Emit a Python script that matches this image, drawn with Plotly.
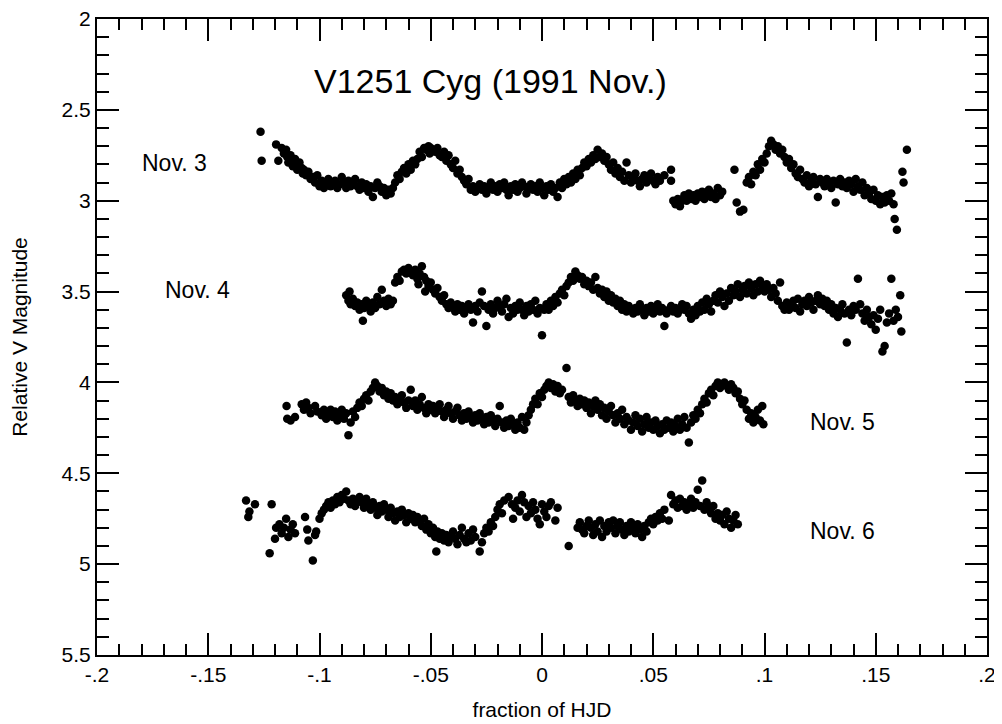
import plotly.graph_objects as go

# ---- data: (fraction of HJD, relative V magnitude) ----
nov3 = [(-0.1265,2.62),(-0.126,2.78),(-0.1195,2.69),(-0.1185,2.78),(-0.117,2.71),(-0.116,2.74),(-0.115,2.72),(-0.1145,2.76),(-0.114,2.79),(-0.113,2.75),(-0.1125,2.78),(-0.112,2.81),(-0.111,2.77),(-0.1105,2.80),(-0.11,2.83),(-0.109,2.79),(-0.108,2.82),(-0.1075,2.85),(-0.107,2.83),(-0.106,2.86),(-0.105,2.84),(-0.104,2.88),(-0.103,2.87),(-0.102,2.9),(-0.101,2.86),(-0.1,2.92),(-0.099,2.89),(-0.098,2.93),(-0.097,2.91),(-0.096,2.88),(-0.095,2.92),(-0.094,2.9),(-0.093,2.89),(-0.092,2.93),(-0.091,2.91),(-0.09,2.87),(-0.089,2.9),(-0.088,2.93),(-0.087,2.89),(-0.086,2.92),(-0.085,2.9),(-0.084,2.88),(-0.083,2.92),(-0.082,2.94),(-0.081,2.9),(-0.08,2.93),(-0.079,2.91),(-0.078,2.95),(-0.077,2.92),(-0.076,2.98),(-0.075,2.93),(-0.074,2.9),(-0.073,2.92),(-0.072,2.95),(-0.071,2.93),(-0.07,2.97),(-0.069,2.94),(-0.068,2.96),(-0.067,2.93),(-0.066,2.9),(-0.065,2.86),(-0.064,2.88),(-0.063,2.84),(-0.062,2.82),(-0.061,2.85),(-0.06,2.8),(-0.059,2.83),(-0.058,2.78),(-0.057,2.8),(-0.056,2.77),(-0.055,2.73),(-0.054,2.76),(-0.053,2.71),(-0.052,2.72),(-0.051,2.7),(-0.0505,2.74),(-0.05,2.71),(-0.049,2.72),(-0.048,2.73),(-0.047,2.71),(-0.046,2.75),(-0.045,2.76),(-0.044,2.73),(-0.043,2.78),(-0.042,2.75),(-0.041,2.8),(-0.04,2.82),(-0.039,2.78),(-0.038,2.85),(-0.037,2.83),(-0.036,2.87),(-0.035,2.89),(-0.034,2.91),(-0.033,2.88),(-0.032,2.94),(-0.031,2.92),(-0.03,2.95),(-0.029,2.93),(-0.028,2.91),(-0.027,2.94),(-0.026,2.92),(-0.025,2.96),(-0.024,2.93),(-0.023,2.9),(-0.022,2.94),(-0.021,2.92),(-0.02,2.95),(-0.019,2.91),(-0.018,2.93),(-0.017,2.9),(-0.016,2.94),(-0.015,2.97),(-0.014,2.92),(-0.013,2.94),(-0.012,2.91),(-0.011,2.95),(-0.01,2.93),(-0.009,2.9),(-0.008,2.92),(-0.007,2.96),(-0.006,2.93),(-0.005,2.91),(-0.004,2.94),(-0.003,2.92),(-0.002,2.95),(-0.001,2.9),(0.0,2.93),(0.001,2.97),(0.002,2.92),(0.003,2.94),(0.004,2.91),(0.005,2.95),(0.006,2.93),(0.007,2.98),(0.008,2.9),(0.009,2.93),(0.01,2.88),(0.011,2.91),(0.012,2.87),(0.013,2.9),(0.014,2.85),(0.015,2.88),(0.016,2.83),(0.017,2.86),(0.018,2.82),(0.019,2.79),(0.02,2.81),(0.021,2.77),(0.022,2.79),(0.023,2.75),(0.024,2.77),(0.025,2.72),(0.026,2.76),(0.027,2.74),(0.028,2.78),(0.029,2.76),(0.03,2.8),(0.031,2.83),(0.032,2.79),(0.033,2.85),(0.034,2.82),(0.035,2.87),(0.036,2.84),(0.037,2.89),(0.038,2.79),(0.039,2.86),(0.04,2.9),(0.041,2.87),(0.042,2.85),(0.043,2.89),(0.044,2.92),(0.045,2.88),(0.046,2.86),(0.047,2.9),(0.048,2.87),(0.049,2.85),(0.05,2.89),(0.051,2.91),(0.052,2.87),(0.053,2.89),(0.055,2.86),(0.058,2.83),(0.058,2.89),(0.059,3.0),(0.06,3.02),(0.061,2.99),(0.062,3.03),(0.063,3.0),(0.064,2.97),(0.065,3.0),(0.066,2.96),(0.067,2.99),(0.068,2.97),(0.069,3.0),(0.07,2.96),(0.071,2.98),(0.072,2.95),(0.073,2.99),(0.074,2.97),(0.075,2.94),(0.076,2.98),(0.077,2.96),(0.078,2.99),(0.079,2.93),(0.08,2.97),(0.081,2.95),(0.0865,2.83),(0.0875,3.01),(0.089,3.06),(0.0905,3.05),(0.092,2.9),(0.093,2.87),(0.094,2.91),(0.095,2.84),(0.096,2.86),(0.097,2.8),(0.098,2.83),(0.099,2.77),(0.1,2.79),(0.101,2.74),(0.102,2.7),(0.103,2.67),(0.104,2.69),(0.105,2.72),(0.106,2.7),(0.107,2.74),(0.108,2.72),(0.109,2.76),(0.11,2.79),(0.111,2.77),(0.112,2.82),(0.113,2.8),(0.114,2.85),(0.115,2.87),(0.116,2.83),(0.117,2.88),(0.118,2.9),(0.119,2.86),(0.12,2.92),(0.121,2.89),(0.122,2.87),(0.123,2.91),(0.124,2.98),(0.125,2.88),(0.126,2.9),(0.127,2.92),(0.128,2.88),(0.129,2.9),(0.13,2.93),(0.131,2.89),(0.132,3.01),(0.133,2.91),(0.134,2.88),(0.135,2.92),(0.136,2.9),(0.137,2.93),(0.138,2.89),(0.139,2.91),(0.14,2.95),(0.141,2.88),(0.142,2.92),(0.143,2.94),(0.144,2.9),(0.145,2.97),(0.146,2.93),(0.147,2.96),(0.148,2.99),(0.149,2.94),(0.15,3.0),(0.151,2.97),(0.152,3.02),(0.153,2.98),(0.154,3.01),(0.155,2.97),(0.156,3.0),(0.157,2.96),(0.158,3.02),(0.1585,3.1),(0.1595,3.16),(0.162,2.84),(0.1625,2.9),(0.164,2.72)]

nov4 = [(-0.088,3.52),(-0.087,3.55),(-0.0865,3.5),(-0.086,3.57),(-0.085,3.54),(-0.084,3.58),(-0.083,3.56),(-0.082,3.6),(-0.081,3.57),(-0.0805,3.66),(-0.08,3.59),(-0.079,3.55),(-0.078,3.58),(-0.077,3.61),(-0.076,3.56),(-0.075,3.59),(-0.074,3.53),(-0.073,3.57),(-0.072,3.49),(-0.071,3.55),(-0.07,3.58),(-0.069,3.54),(-0.068,3.57),(-0.067,3.55),(-0.066,3.45),(-0.065,3.42),(-0.064,3.44),(-0.063,3.39),(-0.062,3.38),(-0.061,3.4),(-0.06,3.37),(-0.059,3.39),(-0.058,3.41),(-0.057,3.38),(-0.056,3.43),(-0.0555,3.46),(-0.055,3.4),(-0.054,3.36),(-0.053,3.42),(-0.0525,3.5),(-0.052,3.44),(-0.051,3.47),(-0.05,3.45),(-0.049,3.49),(-0.048,3.51),(-0.047,3.48),(-0.046,3.53),(-0.045,3.55),(-0.044,3.52),(-0.043,3.57),(-0.042,3.59),(-0.041,3.56),(-0.04,3.58),(-0.039,3.61),(-0.038,3.57),(-0.037,3.6),(-0.036,3.58),(-0.035,3.62),(-0.034,3.59),(-0.033,3.57),(-0.032,3.6),(-0.031,3.67),(-0.03,3.58),(-0.029,3.61),(-0.028,3.56),(-0.027,3.5),(-0.026,3.58),(-0.025,3.69),(-0.024,3.6),(-0.023,3.57),(-0.022,3.62),(-0.021,3.59),(-0.02,3.55),(-0.019,3.58),(-0.018,3.61),(-0.017,3.57),(-0.016,3.54),(-0.015,3.64),(-0.014,3.59),(-0.013,3.62),(-0.012,3.58),(-0.011,3.6),(-0.01,3.56),(-0.009,3.6),(-0.008,3.63),(-0.007,3.58),(-0.006,3.61),(-0.005,3.57),(-0.004,3.6),(-0.003,3.55),(-0.002,3.62),(-0.001,3.59),(0.0,3.74),(0.001,3.6),(0.002,3.57),(0.003,3.6),(0.004,3.55),(0.005,3.58),(0.006,3.53),(0.007,3.56),(0.008,3.51),(0.009,3.49),(0.01,3.52),(0.011,3.47),(0.012,3.45),(0.013,3.42),(0.014,3.44),(0.015,3.39),(0.016,3.41),(0.017,3.43),(0.018,3.42),(0.019,3.46),(0.02,3.44),(0.021,3.47),(0.022,3.45),(0.023,3.49),(0.024,3.42),(0.025,3.48),(0.026,3.51),(0.027,3.49),(0.028,3.53),(0.029,3.5),(0.03,3.55),(0.031,3.52),(0.032,3.56),(0.033,3.54),(0.034,3.58),(0.035,3.55),(0.036,3.6),(0.037,3.57),(0.038,3.61),(0.039,3.58),(0.04,3.6),(0.041,3.62),(0.042,3.59),(0.043,3.61),(0.044,3.57),(0.045,3.6),(0.046,3.63),(0.047,3.59),(0.048,3.61),(0.049,3.58),(0.05,3.62),(0.051,3.6),(0.052,3.57),(0.053,3.61),(0.054,3.59),(0.055,3.69),(0.056,3.62),(0.057,3.6),(0.058,3.58),(0.059,3.61),(0.06,3.59),(0.061,3.62),(0.062,3.6),(0.063,3.57),(0.064,3.6),(0.065,3.58),(0.066,3.62),(0.067,3.65),(0.068,3.6),(0.069,3.63),(0.07,3.58),(0.071,3.61),(0.072,3.56),(0.073,3.6),(0.074,3.54),(0.075,3.57),(0.076,3.61),(0.077,3.55),(0.078,3.52),(0.079,3.56),(0.08,3.5),(0.081,3.53),(0.082,3.58),(0.083,3.51),(0.084,3.55),(0.085,3.48),(0.086,3.52),(0.087,3.5),(0.088,3.46),(0.089,3.53),(0.09,3.49),(0.091,3.47),(0.092,3.51),(0.093,3.45),(0.094,3.48),(0.095,3.52),(0.096,3.46),(0.097,3.5),(0.098,3.44),(0.099,3.47),(0.1,3.5),(0.101,3.46),(0.102,3.49),(0.103,3.53),(0.104,3.48),(0.105,3.51),(0.106,3.55),(0.107,3.45),(0.108,3.58),(0.109,3.6),(0.11,3.56),(0.111,3.6),(0.112,3.57),(0.113,3.55),(0.114,3.59),(0.115,3.54),(0.116,3.61),(0.117,3.57),(0.118,3.55),(0.119,3.58),(0.12,3.53),(0.121,3.56),(0.122,3.6),(0.123,3.55),(0.124,3.52),(0.125,3.57),(0.126,3.54),(0.127,3.58),(0.128,3.55),(0.129,3.6),(0.13,3.57),(0.131,3.62),(0.132,3.59),(0.133,3.64),(0.134,3.6),(0.135,3.57),(0.136,3.62),(0.137,3.78),(0.138,3.6),(0.139,3.63),(0.14,3.58),(0.141,3.6),(0.142,3.43),(0.143,3.57),(0.144,3.62),(0.145,3.66),(0.146,3.6),(0.147,3.64),(0.148,3.68),(0.149,3.63),(0.15,3.71),(0.151,3.65),(0.152,3.6),(0.153,3.83),(0.154,3.8),(0.155,3.67),(0.156,3.62),(0.157,3.43),(0.158,3.66),(0.159,3.6),(0.16,3.64),(0.161,3.52),(0.1615,3.72)]

nov5 = [(-0.1148,4.13),(-0.1145,4.2),(-0.113,4.21),(-0.111,4.19),(-0.108,4.12),(-0.107,4.15),(-0.106,4.11),(-0.105,4.14),(-0.104,4.17),(-0.102,4.13),(-0.101,4.16),(-0.099,4.18),(-0.098,4.15),(-0.097,4.2),(-0.096,4.17),(-0.095,4.15),(-0.094,4.19),(-0.093,4.16),(-0.092,4.21),(-0.091,4.18),(-0.09,4.15),(-0.089,4.2),(-0.088,4.17),(-0.087,4.29),(-0.086,4.22),(-0.085,4.16),(-0.084,4.19),(-0.083,4.14),(-0.082,4.11),(-0.081,4.13),(-0.08,4.09),(-0.079,4.07),(-0.078,4.1),(-0.077,4.05),(-0.076,4.03),(-0.075,4.0),(-0.074,4.02),(-0.073,4.05),(-0.072,4.03),(-0.071,4.07),(-0.07,4.05),(-0.069,4.09),(-0.068,4.06),(-0.067,4.1),(-0.066,4.08),(-0.065,4.12),(-0.064,4.09),(-0.063,4.07),(-0.062,4.11),(-0.061,4.14),(-0.06,4.1),(-0.059,4.04),(-0.058,4.13),(-0.057,4.1),(-0.056,4.15),(-0.055,4.12),(-0.054,4.08),(-0.053,4.14),(-0.052,4.17),(-0.051,4.12),(-0.05,4.15),(-0.049,4.13),(-0.048,4.17),(-0.047,4.14),(-0.046,4.12),(-0.045,4.16),(-0.044,4.19),(-0.043,4.15),(-0.042,4.13),(-0.041,4.17),(-0.04,4.2),(-0.039,4.16),(-0.038,4.14),(-0.037,4.18),(-0.036,4.21),(-0.035,4.17),(-0.034,4.2),(-0.033,4.16),(-0.032,4.19),(-0.031,4.22),(-0.03,4.18),(-0.029,4.21),(-0.028,4.17),(-0.027,4.2),(-0.026,4.23),(-0.025,4.19),(-0.024,4.22),(-0.023,4.18),(-0.022,4.21),(-0.021,4.24),(-0.02,4.2),(-0.019,4.13),(-0.018,4.22),(-0.017,4.25),(-0.016,4.21),(-0.015,4.24),(-0.014,4.2),(-0.013,4.23),(-0.012,4.26),(-0.011,4.22),(-0.01,4.25),(-0.009,4.19),(-0.008,4.26),(-0.007,4.22),(-0.006,4.18),(-0.005,4.15),(-0.004,4.12),(-0.003,4.09),(-0.002,4.12),(-0.001,4.06),(0.0,4.08),(0.001,4.04),(0.002,4.02),(0.003,4.0),(0.004,4.03),(0.005,4.01),(0.006,4.05),(0.007,4.02),(0.008,4.06),(0.009,4.04),(0.011,3.92),(0.012,4.08),(0.013,4.11),(0.014,4.07),(0.015,4.1),(0.016,4.13),(0.017,4.09),(0.018,4.12),(0.019,4.1),(0.02,4.14),(0.021,4.11),(0.022,4.17),(0.023,4.13),(0.024,4.1),(0.025,4.15),(0.026,4.12),(0.027,4.18),(0.028,4.14),(0.029,4.2),(0.03,4.16),(0.031,4.13),(0.032,4.18),(0.033,4.22),(0.034,4.17),(0.035,4.2),(0.036,4.15),(0.037,4.23),(0.038,4.19),(0.039,4.21),(0.04,4.26),(0.041,4.22),(0.042,4.18),(0.043,4.24),(0.044,4.2),(0.045,4.27),(0.046,4.23),(0.047,4.19),(0.048,4.25),(0.049,4.22),(0.05,4.26),(0.051,4.21),(0.052,4.24),(0.053,4.28),(0.054,4.23),(0.055,4.26),(0.056,4.21),(0.057,4.25),(0.058,4.22),(0.059,4.27),(0.06,4.24),(0.061,4.2),(0.062,4.26),(0.063,4.23),(0.064,4.19),(0.065,4.25),(0.066,4.33),(0.067,4.22),(0.068,4.18),(0.069,4.2),(0.07,4.15),(0.071,4.17),(0.072,4.12),(0.073,4.09),(0.074,4.11),(0.075,4.06),(0.076,4.04),(0.077,4.07),(0.078,4.02),(0.079,4.0),(0.08,4.03),(0.081,4.01),(0.082,4.0),(0.083,4.02),(0.084,4.04),(0.085,4.01),(0.086,4.03),(0.087,4.06),(0.088,4.05),(0.089,4.09),(0.09,4.12),(0.091,4.1),(0.092,4.15),(0.093,4.2),(0.094,4.17),(0.095,4.22),(0.096,4.19),(0.097,4.15),(0.098,4.21),(0.099,4.13),(0.0995,4.23)]

nov6 = [(-0.133,4.65),(-0.132,4.74),(-0.1315,4.71),(-0.129,4.67),(-0.1224,4.94),(-0.1215,4.67),(-0.12,4.86),(-0.1195,4.8),(-0.118,4.78),(-0.117,4.83),(-0.116,4.8),(-0.115,4.75),(-0.114,4.85),(-0.113,4.81),(-0.112,4.78),(-0.111,4.83),(-0.1065,4.74),(-0.1055,4.81),(-0.105,4.87),(-0.103,4.98),(-0.102,4.84),(-0.1015,4.82),(-0.1,4.75),(-0.099,4.72),(-0.098,4.7),(-0.097,4.68),(-0.096,4.66),(-0.095,4.69),(-0.094,4.65),(-0.093,4.67),(-0.092,4.63),(-0.091,4.66),(-0.09,4.62),(-0.089,4.64),(-0.088,4.6),(-0.087,4.65),(-0.086,4.67),(-0.085,4.64),(-0.084,4.68),(-0.083,4.65),(-0.082,4.63),(-0.081,4.66),(-0.08,4.69),(-0.079,4.64),(-0.078,4.67),(-0.077,4.7),(-0.076,4.66),(-0.075,4.69),(-0.074,4.73),(-0.073,4.68),(-0.072,4.71),(-0.071,4.67),(-0.07,4.7),(-0.069,4.74),(-0.068,4.69),(-0.067,4.72),(-0.066,4.76),(-0.065,4.71),(-0.064,4.74),(-0.063,4.7),(-0.062,4.73),(-0.061,4.77),(-0.06,4.72),(-0.059,4.75),(-0.058,4.73),(-0.057,4.77),(-0.056,4.74),(-0.055,4.76),(-0.054,4.79),(-0.053,4.75),(-0.052,4.81),(-0.051,4.78),(-0.05,4.83),(-0.049,4.8),(-0.048,4.85),(-0.0475,4.93),(-0.047,4.82),(-0.046,4.86),(-0.045,4.83),(-0.044,4.87),(-0.043,4.84),(-0.042,4.88),(-0.041,4.85),(-0.04,4.82),(-0.039,4.86),(-0.038,4.89),(-0.037,4.84),(-0.036,4.8),(-0.035,4.86),(-0.034,4.88),(-0.033,4.83),(-0.032,4.87),(-0.031,4.81),(-0.03,4.85),(-0.028,4.93),(-0.027,4.88),(-0.026,4.83),(-0.025,4.8),(-0.024,4.82),(-0.023,4.77),(-0.022,4.79),(-0.021,4.74),(-0.02,4.7),(-0.019,4.67),(-0.018,4.72),(-0.017,4.65),(-0.015,4.63),(-0.0135,4.67),(-0.013,4.75),(-0.012,4.69),(-0.011,4.65),(-0.01,4.71),(-0.009,4.62),(-0.008,4.66),(-0.007,4.74),(-0.006,4.68),(-0.005,4.72),(-0.004,4.66),(-0.003,4.7),(-0.002,4.75),(-0.001,4.78),(0.0,4.67),(0.001,4.71),(0.002,4.74),(0.003,4.68),(0.004,4.66),(0.006,4.76),(0.007,4.69),(0.012,4.9),(0.016,4.8),(0.017,4.77),(0.018,4.81),(0.019,4.83),(0.02,4.79),(0.021,4.76),(0.022,4.8),(0.023,4.84),(0.024,4.78),(0.025,4.82),(0.026,4.76),(0.027,4.85),(0.028,4.79),(0.029,4.82),(0.03,4.77),(0.031,4.8),(0.032,4.76),(0.033,4.83),(0.034,4.79),(0.035,4.77),(0.036,4.81),(0.037,4.84),(0.038,4.79),(0.039,4.82),(0.04,4.77),(0.041,4.8),(0.042,4.83),(0.043,4.78),(0.044,4.81),(0.045,4.85),(0.046,4.79),(0.047,4.82),(0.048,4.77),(0.049,4.75),(0.05,4.78),(0.051,4.74),(0.052,4.76),(0.053,4.72),(0.054,4.75),(0.055,4.7),(0.057,4.76),(0.058,4.62),(0.059,4.67),(0.06,4.65),(0.061,4.69),(0.062,4.64),(0.063,4.68),(0.064,4.66),(0.065,4.7),(0.066,4.67),(0.067,4.64),(0.068,4.69),(0.069,4.66),(0.07,4.59),(0.071,4.68),(0.072,4.54),(0.073,4.7),(0.074,4.66),(0.075,4.69),(0.076,4.72),(0.077,4.68),(0.078,4.75),(0.079,4.72),(0.08,4.76),(0.081,4.73),(0.082,4.78),(0.083,4.71),(0.084,4.75),(0.085,4.8),(0.086,4.76),(0.087,4.73),(0.088,4.78)]

nights = {"Nov. 3": nov3, "Nov. 4": nov4, "Nov. 5": nov5, "Nov. 6": nov6}

# label positions (data coordinates)
night_labels = ["Nov. 3", "Nov. 4", "Nov. 5", "Nov. 6"]
label_x = [-0.165, -0.155, 0.135, 0.135]
label_y = [2.79, 3.49, 4.22, 4.82]

x_tickvals = [-0.2, -0.15, -0.1, -0.05, 0, 0.05, 0.1, 0.15, 0.2]
x_ticktext = ["-.2", "-.15", "-.1", "-.05", "0", ".05", ".1", ".15", ".2"]
y_tickvals = [2, 2.5, 3, 3.5, 4, 4.5, 5, 5.5]
y_ticktext = ["2", "2.5", "3", "3.5", "4", "4.5", "5", "5.5"]

title_text = "V1251 Cyg (1991 Nov.)"

FONT = "Liberation Sans, Arial, Helvetica, sans-serif"

fig = go.Figure()
for name, pts in nights.items():
    xs, ys = zip(*pts)
    fig.add_trace(go.Scatter(
        x=list(xs), y=list(ys), mode="markers", name=name,
        marker=dict(color="black", size=8.5, line=dict(width=0)),
        showlegend=False,
    ))

for txt, lx, ly in zip(night_labels, label_x, label_y):
    fig.add_annotation(x=lx, y=ly, xref="x", yref="y", text=txt,
                       showarrow=False, font=dict(family=FONT, size=23, color="black"))

fig.add_annotation(x=0.442, y=0.935, xref="paper", yref="paper", text=title_text,
                   showarrow=False, font=dict(family=FONT, size=34, color="black"))

axis_common = dict(
    showgrid=False, zeroline=False, showline=True, linecolor="black", linewidth=2,
    mirror="ticks", ticks="inside", tickcolor="black", tickwidth=2,
    tickfont=dict(family=FONT, size=21, color="black"), automargin=False,
    ticklabeloverflow="allow",
)

fig.update_xaxes(
    range=[-0.2, 0.2], tickmode="array", tickvals=x_tickvals, ticktext=x_ticktext,
    ticklen=22,
    minor=dict(dtick=0.01, tick0=0, ticks="inside", ticklen=11, tickwidth=2, tickcolor="black", showgrid=False),
    title=dict(text="fraction of HJD", font=dict(family=FONT, size=21, color="black"), standoff=17),
    **axis_common,
)
fig.update_yaxes(
    range=[5.5, 2], tickmode="array", tickvals=y_tickvals, ticktext=y_ticktext,
    ticklen=22,
    minor=dict(dtick=0.1, tick0=0, ticks="inside", ticklen=12, tickwidth=2, tickcolor="black", showgrid=False),
    title=dict(text="Relative V Magnitude", font=dict(family=FONT, size=21, color="black"), standoff=30),
    **axis_common,
)

# the page adds an 8px body margin, so the figure is sized to the visible area
fig.update_layout(
    width=994, height=716,
    margin=dict(l=89, r=15, t=11, b=69, pad=0),
    paper_bgcolor="white", plot_bgcolor="white",
    font=dict(family=FONT, color="black"),
)

fig.write_html("out.html")
